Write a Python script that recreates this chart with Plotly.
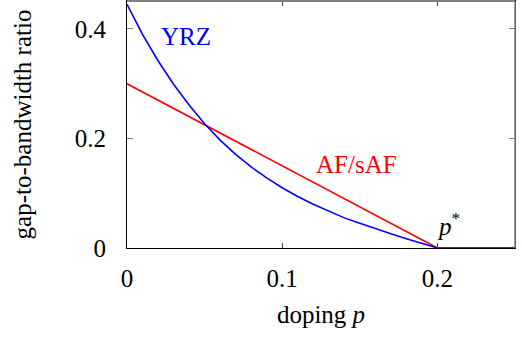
import plotly.graph_objects as go

# Data
p_yrz = [0, 0.005, 0.01, 0.02, 0.03, 0.04, 0.05, 0.06, 0.07, 0.08, 0.09, 0.10,
         0.11, 0.12, 0.13, 0.14, 0.15, 0.16, 0.17, 0.18, 0.19, 0.20]
gap_yrz = [0.445, 0.417, 0.390, 0.342, 0.299, 0.261, 0.227, 0.197, 0.171, 0.148,
           0.128, 0.110, 0.094, 0.080, 0.067, 0.055, 0.045, 0.035, 0.026, 0.017,
           0.008, 0.0]
p_af = [0, 0.20]
gap_af = [0.30, 0.0]
p_flat = [0.20, 0.25]
gap_flat = [0.0, 0.0]

x_ticks = [0, 0.1, 0.2]
x_ticklabels = ["0", "0.1", "0.2"]
y_ticks = [0, 0.2, 0.4]
y_ticklabels = ["0", "0.2", "0.4"]

FONT = "Liberation Serif"
FS = 25

fig = go.Figure()
fig.add_trace(go.Scatter(x=p_af, y=gap_af, mode="lines",
                         line=dict(color="#ff0000", width=1.6), showlegend=False))
fig.add_trace(go.Scatter(x=p_yrz, y=gap_yrz, mode="lines",
                         line=dict(color="#0000ff", width=1.6),
                         showlegend=False))
fig.add_trace(go.Scatter(x=p_flat, y=gap_flat, mode="lines",
                         line=dict(color="#5a1aa8", width=2.2), showlegend=False))

fig.update_layout(
    width=522, height=342,
    margin=dict(l=127, r=7, t=1, b=94),
    plot_bgcolor="white", paper_bgcolor="white",
    font=dict(family=FONT, size=FS, color="black"),
    xaxis=dict(range=[0, 0.25], tickvals=x_ticks, ticktext=x_ticklabels,
               showgrid=False, zeroline=False, showline=True, linecolor="black",
               linewidth=1, mirror="ticks", ticks="inside", ticklen=5,
               tickcolor="#444444", tickwidth=1, ticklabelstandoff=8,
               tickfont=dict(family=FONT, size=FS),
               title=dict(text="doping <i>p</i>", standoff=14,
                          font=dict(family=FONT, size=FS))),
    yaxis=dict(range=[0, 0.4511], tickvals=y_ticks, ticktext=y_ticklabels,
               showgrid=False, zeroline=False, showline=True, linecolor="black",
               linewidth=1, mirror="ticks", ticks="inside", ticklen=6,
               tickcolor="#808080", tickwidth=1, ticklabelstandoff=15,
               tickfont=dict(family=FONT, size=FS),
               title=dict(text="gap-to-bandwidth ratio", standoff=36,
                          font=dict(family=FONT, size=FS))),
    shapes=[
        dict(type="line", xref="paper", yref="paper", x0=0, x1=1, y0=1, y1=1,
             line=dict(color="#808080", width=2), layer="above"),
        dict(type="line", xref="paper", yref="paper", x0=1, x1=1, y0=0, y1=1,
             line=dict(color="#808080", width=1.5), layer="above"),
    ],
    annotations=[
        dict(x=0.038, y=0.387, xref="x", yref="y", text="YRZ", showarrow=False,
             font=dict(family=FONT, size=FS, color="#0000ff")),
        dict(x=0.148, y=0.152, xref="x", yref="y", text="AF/sAF", showarrow=False,
             font=dict(family=FONT, size=FS, color="#ff0000")),
        dict(x=0.207, y=0.044, xref="x", yref="y", text="<i>p</i><sup>*</sup>",
             showarrow=False, font=dict(family=FONT, size=FS, color="black")),
    ],
)

fig.write_html("out.html")
